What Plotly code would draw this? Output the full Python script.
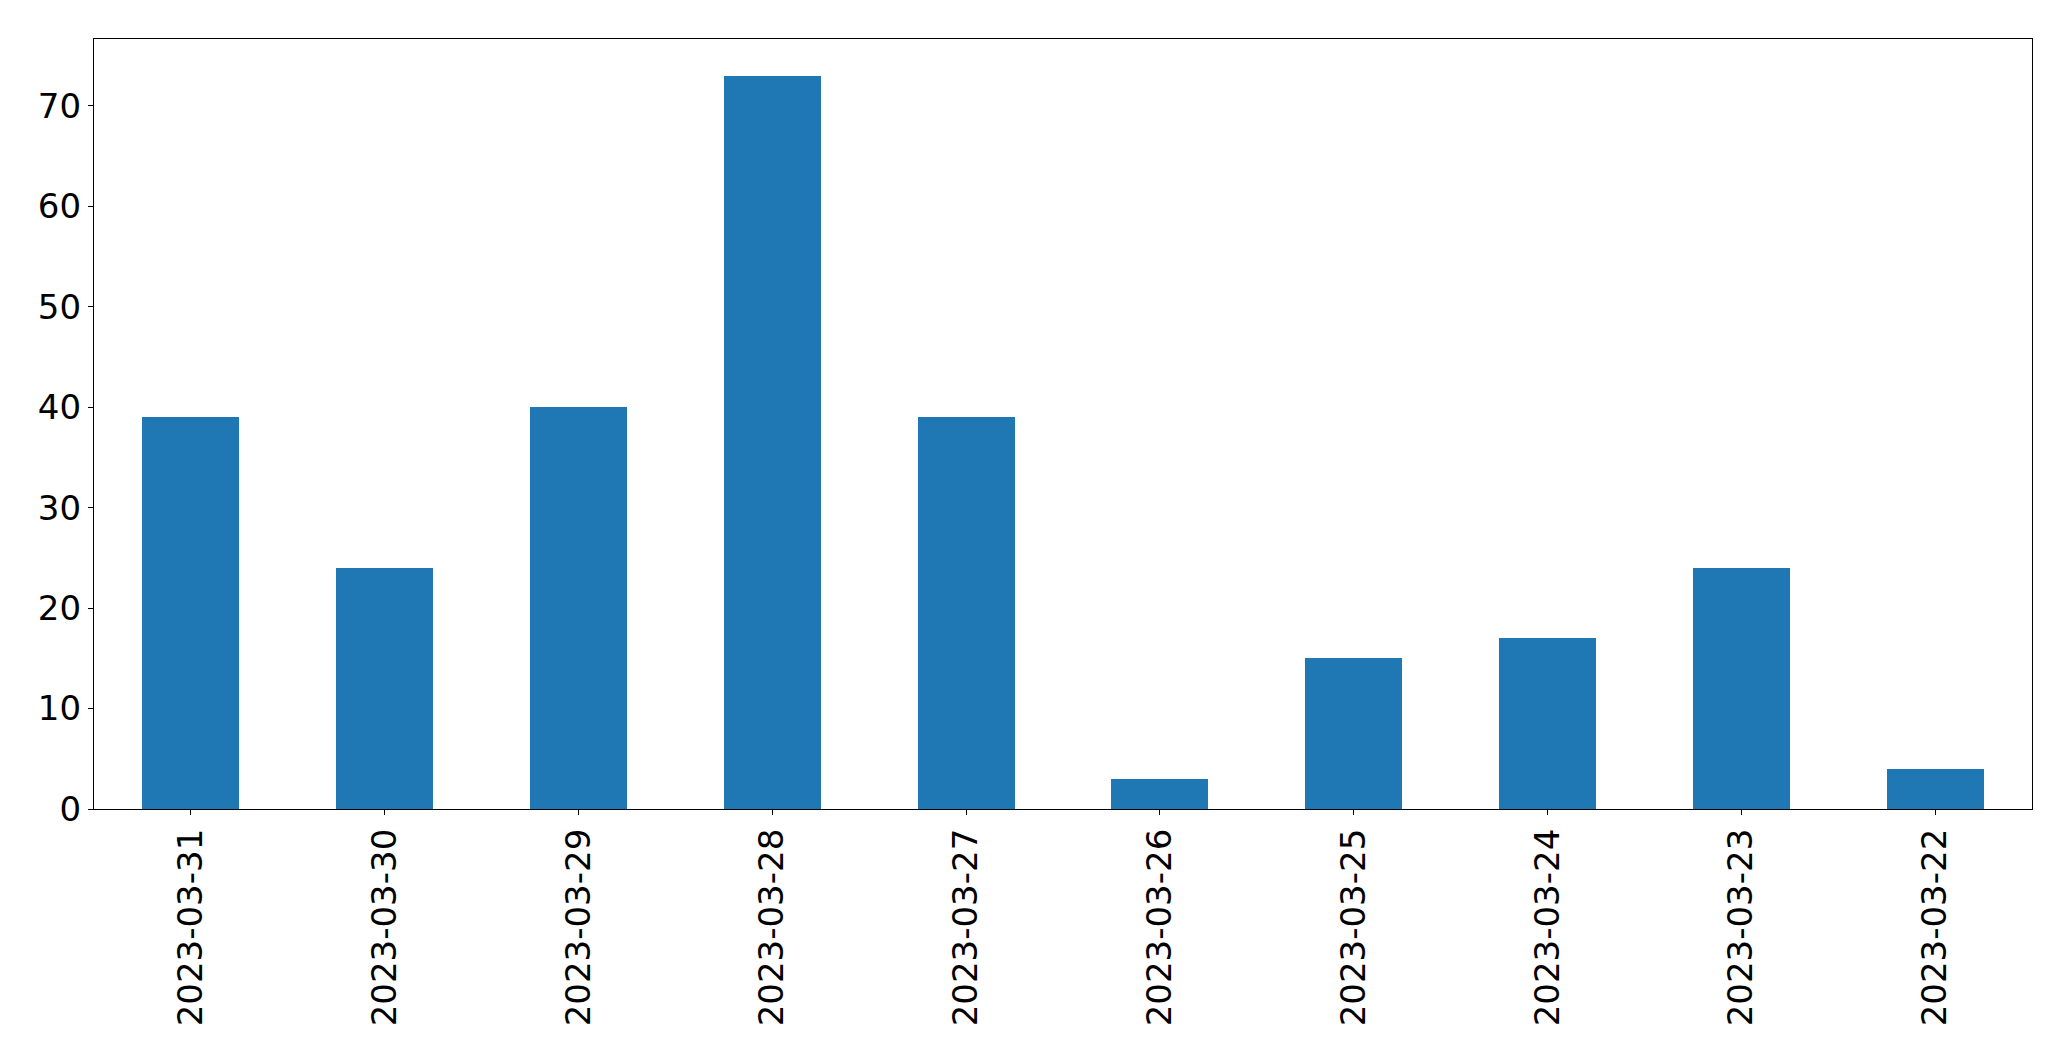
import plotly.graph_objects as go

dates = ["2023-03-31", "2023-03-30", "2023-03-29", "2023-03-28", "2023-03-27",
         "2023-03-26", "2023-03-25", "2023-03-24", "2023-03-23", "2023-03-22"]
counts = [39, 24, 40, 73, 39, 3, 15, 17, 24, 4]
y_ticks = [0, 10, 20, 30, 40, 50, 60, 70]

fig = go.Figure(go.Bar(x=dates, y=counts, width=0.5, marker=dict(color="#1f77b4", line=dict(width=0))))

fig.update_layout(
    width=2071, height=1061,
    margin=dict(l=94, r=39, t=39, b=252, pad=0),
    plot_bgcolor="white", paper_bgcolor="white",
    font=dict(family="DejaVu Sans", size=34, color="black"),
    showlegend=False,
    bargap=0,
)
fig.update_xaxes(
    type="category", range=[-0.5, 9.5], tickangle=-90,
    showline=True, linecolor="black", linewidth=1.3, mirror=True,
    ticks="outside", ticklen=5, tickcolor="black", tickwidth=1.3,
    showgrid=False, zeroline=False,
)
fig.update_yaxes(
    range=[0, 76.65], tickvals=y_ticks,
    showline=True, linecolor="black", linewidth=1.3, mirror=True,
    ticks="outside", ticklen=5, tickcolor="black", tickwidth=1.3,
    showgrid=False, zeroline=False,
)
fig.write_html("out.html")
